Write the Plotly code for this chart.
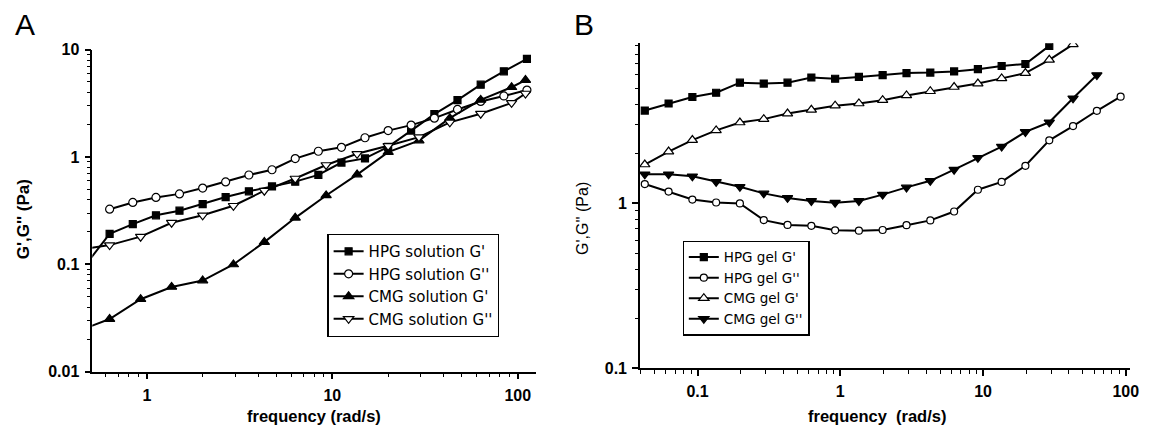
import plotly.graph_objects as go
import math

# ---------------- data ----------------
# Panel A: solutions
hpg_sol_freq = [0.47, 0.63, 0.84, 1.12, 1.5, 2.0, 2.66, 3.55, 4.73, 6.31, 8.41,
                11.2, 15.0, 20.0, 26.6, 35.5, 47.3, 63.1, 84.1, 112]
hpg_sol_Gp = [0.10, 0.192, 0.237, 0.286, 0.316, 0.364, 0.423, 0.479, 0.531, 0.589,
              0.68, 0.887, 0.97, 1.24, 1.76, 2.51, 3.38, 4.71, 6.28, 8.2]
hpg_sol_Gpp_freq = [0.63, 0.84, 1.12, 1.5, 2.0, 2.66, 3.55, 4.73, 6.31, 8.41,
                    11.2, 15.0, 20.0, 26.6, 35.5, 47.3, 63.1, 84.1, 112]
hpg_sol_Gpp = [0.326, 0.377, 0.420, 0.453, 0.513, 0.585, 0.679, 0.760, 0.966, 1.13,
               1.23, 1.51, 1.76, 1.98, 2.3, 2.77, 3.29, 3.70, 4.2]
cmg_sol_freq = [0.43, 0.63, 0.926, 1.36, 2.0, 2.93, 4.3, 6.31, 9.26, 13.6, 20.0,
                29.3, 43.0, 63.1, 92.6, 110]
cmg_sol_Gp = [0.024, 0.0309, 0.0473, 0.0615, 0.0706, 0.0996, 0.161, 0.271, 0.438,
              0.685, 1.11, 1.42, 2.3, 3.4, 4.46, 5.2]
cmg_sol_Gpp = [0.137, 0.151, 0.181, 0.244, 0.286, 0.351, 0.485, 0.63, 0.842, 1.07,
               1.27, 1.53, 2.10, 2.53, 3.19, 3.9]

# Panel B: gels
gel_freq = [0.0427, 0.0627, 0.092, 0.135, 0.198, 0.291, 0.427, 0.627, 0.92, 1.35,
            1.98, 2.91, 4.27, 6.27, 9.2, 13.5, 19.8, 29.1, 42.7, 62.7, 92.0]
hpg_gel_Gp = [3.65, 4.03, 4.41, 4.68, 5.39, 5.32, 5.39, 5.79, 5.69, 5.84, 5.98, 6.16,
              6.2, 6.3, 6.5, 6.8, 6.99, 9.0]
hpg_gel_Gpp = [1.31, 1.18, 1.055, 1.013, 1.0, 0.792, 0.741, 0.731, 0.687, 0.684, 0.69,
               0.738, 0.789, 0.893, 1.21, 1.35, 1.69, 2.41, 2.94, 3.64, 4.43]
cmg_gel_Gp = [1.72, 2.06, 2.42, 2.77, 3.09, 3.24, 3.5, 3.69, 3.91, 4.03, 4.22, 4.51,
              4.78, 5.07, 5.32, 5.72, 6.16, 7.41, 9.2]
cmg_gel_Gpp = [1.50, 1.50, 1.46, 1.35, 1.26, 1.15, 1.08, 1.035, 1.01, 1.035, 1.13, 1.25,
               1.37, 1.60, 1.89, 2.21, 2.71, 3.10, 4.33, 5.99]

# tick labels
a_xticks = [1, 10, 100]
a_xticktext = ["1", "10", "100"]
a_yticks = [0.01, 0.1, 1, 10]
a_yticktext = ["0.01", "0.1", "1", "10"]
b_xticks = [0.1, 1, 10, 100]
b_xticktext = ["0.1", "1", "10", "100"]
b_yticks = [0.1, 1]
b_yticktext = ["0.1", "1"]

labels_a = ["HPG solution G'", "HPG solution G''", "CMG solution G'", "CMG solution G''"]
labels_b = ["HPG gel G'", "HPG gel G''", "CMG gel G'", "CMG gel G''"]

# ---------------- figure ----------------
W, H = 1150, 439
FONT = "Arial, Liberation Sans, sans-serif"
LEG_FONT = "DejaVu Sans, Arial, sans-serif"


def minor_vals(lo, hi):
    vals = []
    d = 10.0 ** math.floor(math.log10(lo))
    while d < hi:
        for m in range(2, 10):
            v = m * d
            if lo <= v <= hi:
                vals.append(v)
        d *= 10
    return vals


def line_trace(x, y, name, symbol, fill, size, xa, ya, legend):
    return go.Scatter(
        x=x, y=y, name=name, mode="lines+markers",
        line=dict(color="black", width=2),
        marker=dict(symbol=symbol, size=size, color=fill,
                    line=dict(color="black", width=1.2)),
        xaxis=xa, yaxis=ya, legend=legend,
    )


fig = go.Figure()
# Panel A
fig.add_trace(line_trace(hpg_sol_freq, hpg_sol_Gp, labels_a[0], "square", "black", 7, "x", "y", "legend"))
fig.add_trace(line_trace(hpg_sol_Gpp_freq, hpg_sol_Gpp, labels_a[1], "circle", "white", 8, "x", "y", "legend"))
fig.add_trace(line_trace(cmg_sol_freq, cmg_sol_Gp, labels_a[2], "triangle-up", "black", 9, "x", "y", "legend"))
fig.add_trace(line_trace(cmg_sol_freq, cmg_sol_Gpp, labels_a[3], "triangle-down", "white", 9, "x", "y", "legend"))
# Panel B
fig.add_trace(line_trace(gel_freq[:len(hpg_gel_Gp)], hpg_gel_Gp, labels_b[0], "square", "black", 7, "x2", "y2", "legend2"))
fig.add_trace(line_trace(gel_freq[:len(hpg_gel_Gpp)], hpg_gel_Gpp, labels_b[1], "circle", "white", 7, "x2", "y2", "legend2"))
fig.add_trace(line_trace(gel_freq[:len(cmg_gel_Gp)], cmg_gel_Gp, labels_b[2], "triangle-up", "white", 9, "x2", "y2", "legend2"))
fig.add_trace(line_trace(gel_freq[:len(cmg_gel_Gpp)], cmg_gel_Gpp, labels_b[3], "triangle-down", "black", 9, "x2", "y2", "legend2"))


def axis(domain, rng, tickvals, ticktext, anchor, lo, hi):
    return dict(
        type="log", domain=domain, range=rng, anchor=anchor,
        showline=True, linecolor="black", linewidth=1.5, mirror=False,
        showgrid=False, zeroline=False,
        ticks="outside", ticklen=6, tickwidth=1.5, tickcolor="black",
        tickvals=tickvals, ticktext=ticktext,
        tickfont=dict(family=FONT, size=16, color="black", weight="bold"),
        ticklabelstandoff=2,
        minor=dict(ticks="outside", ticklen=3.5, tickwidth=1.2, tickcolor="black",
                   tickvals=minor_vals(lo, hi), showgrid=False),
    )


a_x0, a_x1, a_ytop, a_ybot = 93, 540, 43.3, 378.3
b_x0, b_x1, b_ytop, b_ybot = 645, 1139, 36.7, 375.0

fig.update_layout(
    width=W, height=H,
    margin=dict(l=0, r=0, t=0, b=0),
    paper_bgcolor="white", plot_bgcolor="white",
    font=dict(family=FONT, color="black"),
    xaxis=axis([a_x0 / W, a_x1 / W], [math.log10(0.508), math.log10(125)],
               a_xticks, a_xticktext, "y", 0.508, 125),
    yaxis=axis([1 - a_ybot / H, 1 - a_ytop / H], [-2, 1],
               a_yticks, a_yticktext, "x", 0.01, 10),
    xaxis2=axis([b_x0 / W, b_x1 / W], [math.log10(0.0395), 2.03],
                b_xticks, b_xticktext, "y2", 0.0395, 107),
    yaxis2=axis([1 - b_ybot / H, 1 - b_ytop / H], [-1, 0.97],
                b_yticks, b_yticktext, "x2", 0.1, 9.3),
    legend=dict(x=330 / W, y=1 - 235 / H, xanchor="left", yanchor="top",
                bordercolor="black", borderwidth=1.2, bgcolor="white",
                font=dict(family=LEG_FONT, size=15, color="black"),
                itemwidth=30, tracegroupgap=0),
    legend2=dict(x=688 / W, y=1 - 242 / H, xanchor="left", yanchor="top",
                 bordercolor="black", borderwidth=1.2, bgcolor="white",
                 font=dict(family=LEG_FONT, size=13.5, color="black"),
                 itemwidth=30, tracegroupgap=0),
    showlegend=True,
)

annots = [
    dict(text="A", x=25 / W, y=1 - 17 / H, size=30),
    dict(text="B", x=589 / W, y=1 - 17 / H, size=30),
    dict(text="<b>G',G'' (Pa)</b>", x=24 / W, y=1 - 220 / H, textangle=-90, size=17),
    dict(text="G',G'' (Pa)", x=587 / W, y=1 - 219 / H, textangle=-90, size=16),
    dict(text="<b>frequency (rad/s)</b>", x=316 / W, y=1 - 424 / H, size=16.5),
    dict(text="<b>frequency\u00a0 (rad/s)</b>", x=884 / W, y=1 - 424 / H, size=16.5),
]
for a in annots:
    size = a.pop("size")
    fig.add_annotation(xref="paper", yref="paper", showarrow=False,
                       xanchor="center", yanchor="middle",
                       font=dict(family=FONT, color="black", size=size), **a)

fig.write_html(
    "out.html",
    config={"displayModeBar": False},
    post_script="document.body.style.margin='0';document.body.style.overflow='hidden';",
)
